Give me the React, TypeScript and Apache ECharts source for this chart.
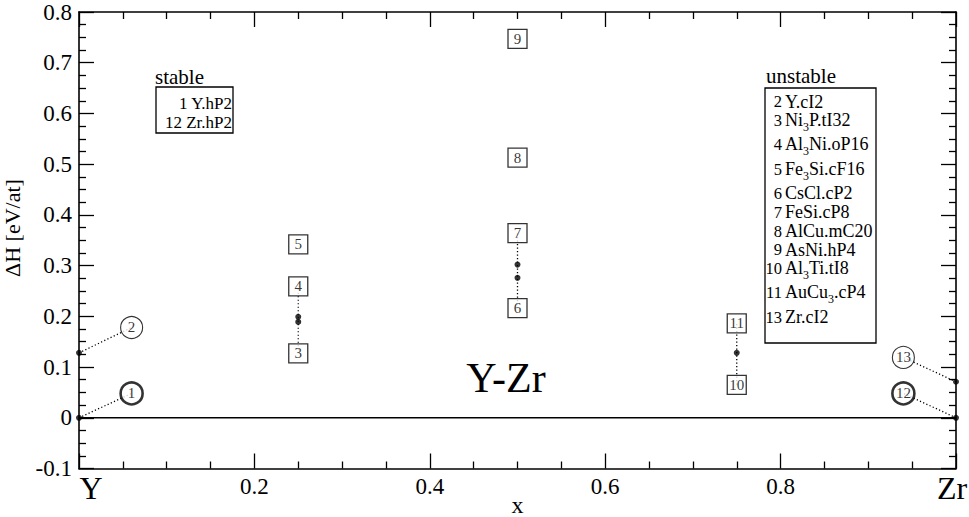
import React, { useEffect, useRef } from "react";
import * as echarts from "echarts";

const FONT = "Liberation Serif";

// Computed formation enthalpies (x = Zr fraction, ΔH in eV/at)
const dotX = [0, 0, 0.25, 0.25, 0.5, 0.5, 0.75, 1, 1];
const dotY = [0, 0.128, 0.189, 0.199, 0.276, 0.302, 0.128, 0, 0.071];

// Circled labels (pure elements) and the points they point at
const circleIds = ["1", "2", "12", "13"];
const circleX = [0.06, 0.06, 0.94, 0.94];
const circleY = [0.048, 0.178, 0.048, 0.119];
const circleBold = [true, false, true, false];
const circleFromX = [0, 0, 1, 1];
const circleFromY = [0, 0.128, 0, 0.071];

// Boxed labels (compounds)
const boxIds = ["3", "4", "5", "6", "7", "8", "9", "10", "11"];
const boxX = [0.25, 0.25, 0.25, 0.5, 0.5, 0.5, 0.5, 0.75, 0.75];
const boxY = [0.127, 0.259, 0.342, 0.216, 0.364, 0.513, 0.747, 0.065, 0.186];

// Vertical dotted connectors between boxed labels
const stackX = [0.25, 0.5, 0.75];
const stackLow = [0.127, 0.216, 0.065];
const stackHigh = [0.259, 0.364, 0.186];

// Axis labels
const xEndLabels = ["Y", "Zr"];
const yAxisTitle = "ΔH [eV/at]";
const xAxisTitle = "x";
const systemTitle = "Y-Zr";

// Legends
const stableTitle = "stable";
const stableEntries = ["1 Y.hP2", "12 Zr.hP2"];
const unstableTitle = "unstable";
const unstableNums = ["2", "3", "4", "5", "6", "7", "8", "9", "10", "11", "13"];
const unstableNames = [
  "Y.cI2",
  "Ni{s|3}P.tI32",
  "Al{s|3}Ni.oP16",
  "Fe{s|3}Si.cF16",
  "CsCl.cP2",
  "FeSi.cP8",
  "AlCu.mC20",
  "AsNi.hP4",
  "Al{s|3}Ti.tI8",
  "AuCu{s|3}.cP4",
  "Zr.cI2",
];

const DOTTED = { color: "#000", width: 1.3, type: [1.2, 2.3] as any };

function txt(text: string, x: number, y: number, size: number, align: string, extra: any = {}) {
  return {
    type: "text",
    x,
    y,
    ...extra,
    style: {
      text,
      fontFamily: FONT,
      fontSize: size,
      fill: "#000",
      align,
      verticalAlign: "middle",
    },
  };
}

function buildOption() {
  const series: any[] = [];

  series.push({
    type: "line",
    data: [
      [0, 0],
      [1, 0],
    ],
    symbol: "none",
    lineStyle: { color: "#000", width: 1.6 },
    z: 1,
    silent: true,
  });

  circleIds.forEach((_, i) => {
    series.push({
      type: "line",
      data: [
        [circleFromX[i], circleFromY[i]],
        [circleX[i], circleY[i]],
      ],
      symbol: "none",
      lineStyle: DOTTED,
      z: 2,
      silent: true,
    });
  });

  stackX.forEach((x, i) => {
    series.push({
      type: "line",
      data: [
        [x, stackLow[i]],
        [x, stackHigh[i]],
      ],
      symbol: "none",
      lineStyle: DOTTED,
      z: 2,
      silent: true,
    });
  });

  series.push({
    type: "scatter",
    data: dotX.map((x, i) => [x, dotY[i]]),
    symbol: "circle",
    symbolSize: 6,
    itemStyle: { color: "#000" },
    z: 3,
    silent: true,
  });

  series.push({
    type: "scatter",
    data: circleIds.map((id, i) => ({
      value: [circleX[i], circleY[i]],
      itemStyle: { borderWidth: circleBold[i] ? 2.6 : 1.1 },
      label: { formatter: id },
    })),
    symbol: "circle",
    symbolSize: 22,
    itemStyle: { color: "#fff", borderColor: "#000" },
    label: {
      show: true,
      position: "inside",
      color: "#000",
      fontFamily: FONT,
      fontSize: 15,
    },
    z: 4,
    silent: true,
  });

  series.push({
    type: "scatter",
    data: boxIds.map((id, i) => ({
      value: [boxX[i], boxY[i]],
      label: { formatter: id },
    })),
    symbol: "rect",
    symbolSize: [19, 19],
    itemStyle: { color: "#fff", borderColor: "#000", borderWidth: 1.3 },
    label: {
      show: true,
      position: "inside",
      color: "#000",
      fontFamily: FONT,
      fontSize: 15,
    },
    z: 4,
    silent: true,
  });

  const axisCommon = {
    axisLine: { onZero: false, lineStyle: { color: "#000", width: 1.6 } },
    axisTick: { inside: true, length: 15, lineStyle: { color: "#000", width: 1.3 } },
    minorTick: { show: true, splitNumber: 4, length: 7, lineStyle: { color: "#000", width: 1.3 } },
    splitLine: { show: false },
    minorSplitLine: { show: false },
  };

  const graphics: any[] = [];
  graphics.push(txt(yAxisTitle, 12, 228, 22, "center", { rotation: Math.PI / 2 }));
  graphics.push(txt(systemTitle, 506, 378, 42, "center"));

  // stable legend
  graphics.push(txt(stableTitle, 155, 77, 21, "left"));
  graphics.push({
    type: "rect",
    shape: { x: 156, y: 87, width: 77, height: 46 },
    style: { fill: "#fff", stroke: "#000", lineWidth: 1.3 },
  });
  stableEntries.forEach((t, i) => {
    graphics.push(txt(t, 232, 103 + i * 19, 17, "right"));
  });

  // unstable legend
  graphics.push(txt(unstableTitle, 766, 76, 21, "left"));
  graphics.push({
    type: "rect",
    shape: { x: 765, y: 88, width: 111, height: 255 },
    style: { fill: "#fff", stroke: "#000", lineWidth: 1.3 },
  });
  let yy = 101.7;
  unstableNames.forEach((name, i) => {
    if (i > 0) {
      yy += 18.8 + (unstableNames[i - 1].includes("{s|") ? 5.5 : 0);
    }
    graphics.push(txt(unstableNums[i], 782, yy, 16.5, "right"));
    const hasSub = name.includes("{s|");
    const richText = name.replace(/\}([^{]+)/g, "}{m|$1}").replace(/^([^{]+)/, "{m|$1}");
    graphics.push({
      type: "text",
      x: 785,
      y: hasSub ? yy + 1.5 : yy,
      style: {
        text: richText,
        fill: "#000",
        align: "left",
        verticalAlign: "middle",
        rich: {
          m: { fontFamily: FONT, fontSize: 18, fill: "#000", lineHeight: 18, verticalAlign: "top" },
          s: { fontFamily: FONT, fontSize: 12, fill: "#000", lineHeight: 22, verticalAlign: "bottom" },
        },
      },
    });
  });

  return {
    animation: false,
    backgroundColor: "#fff",
    grid: { left: 79, right: 13, top: 12, bottom: 48.5, containLabel: false, outerBoundsMode: "none" },
    xAxis: [
      {
        type: "value",
        min: 0,
        max: 1,
        interval: 0.2,
        position: "bottom",
        ...axisCommon,
        axisLabel: {
          color: "#000",
          fontFamily: FONT,
          fontSize: 23,
          margin: 6,
          lineHeight: 23,
          formatter: (v: number) => {
            if (v === 0) return `{y|${xEndLabels[0]}}`;
            if (v === 1) return `{zr|${xEndLabels[1]}}`;
            return String(Number(v.toFixed(1)));
          },
          rich: {
            y: { fontFamily: FONT, fontSize: 32, lineHeight: 26, color: "#000", padding: [0, 0, 0, 24] },
            zr: { fontFamily: FONT, fontSize: 32, lineHeight: 26, color: "#000", padding: [0, 8, 0, 0] },
          },
        },
        name: xAxisTitle,
        nameLocation: "middle",
        nameGap: 24,
        nameMoveOverlap: false,
        nameTextStyle: { color: "#000", fontFamily: FONT, fontSize: 24 },
      },
      {
        type: "value",
        min: 0,
        max: 1,
        interval: 0.2,
        position: "top",
        ...axisCommon,
        axisLabel: { show: false },
      },
    ],
    yAxis: [
      {
        type: "value",
        min: -0.1,
        max: 0.8,
        interval: 0.1,
        position: "left",
        ...axisCommon,
        axisLabel: {
          color: "#000",
          fontFamily: FONT,
          fontSize: 23,
          margin: 7,
          formatter: (v: number) => String(Number(v.toFixed(1))),
        },
      },
      {
        type: "value",
        min: -0.1,
        max: 0.8,
        interval: 0.1,
        position: "right",
        ...axisCommon,
        axisLabel: { show: false },
      },
    ],
    series,
    graphic: { elements: graphics },
  };
}

export default function App() {
  const ref = useRef<HTMLDivElement>(null);
  useEffect(() => {
    const chart = echarts.init(ref.current!, null, { renderer: "svg" });
    chart.setOption(buildOption() as any);
    return () => chart.dispose();
  }, []);
  return (
    <div
      ref={ref}
      style={{ position: "fixed", left: 0, top: 0, width: 969, height: 517, background: "#fff" }}
    />
  );
}
